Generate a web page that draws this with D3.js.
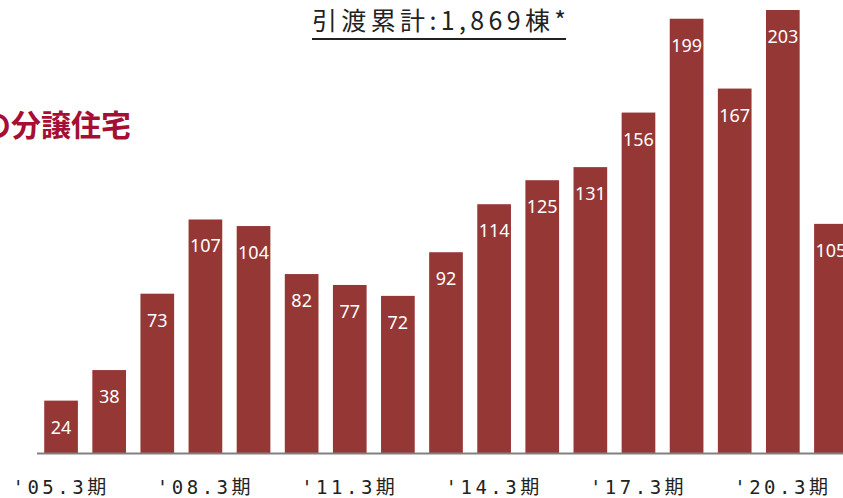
<!DOCTYPE html>
<html>
<head>
<meta charset="utf-8">
<script src="https://cdn.jsdelivr.net/npm/d3@7"></script>
<style>
  body { margin: 0; background: #fff; overflow: hidden; }
  svg { display: block; }
</style>
</head>
<body>
<div id="chart"></div>
<script>
// Fiscal periods and delivered houses per period
const periods = ["'05.3期", "'06.3期", "'07.3期", "'08.3期", "'09.3期", "'10.3期",
    "'11.3期", "'12.3期", "'13.3期", "'14.3期", "'15.3期", "'16.3期",
    "'17.3期", "'18.3期", "'19.3期", "'20.3期", "'21.3期"];
const houses = [24, 38, 73, 107, 104, 82, 77, 72, 92, 114, 125, 131, 156, 199, 167, 203, 105];
const tickLabels = ["'05.3期", "'08.3期", "'11.3期", "'14.3期", "'17.3期", "'20.3期"];
const titleText = "引渡累計:1,869棟*";
const sideText = "の分譲住宅";

const width = 843, height = 498;

const svg = d3.select("#chart").append("svg")
    .attr("width", width)
    .attr("height", height);

const x = d3.scaleBand()
    .domain(periods)
    .range([37, 855])
    .paddingInner(0.3)
    .paddingOuter(0.15);

const y = d3.scaleLinear()
    .domain([0, 203])
    .range([453, 10]);

// Bars
svg.selectAll(".bar")
    .data(houses)
    .enter().append("rect")
    .attr("class", "bar")
    .attr("x", (d, i) => x(periods[i]))
    .attr("y", d => y(d))
    .attr("width", x.bandwidth())
    .attr("height", d => y(0) - y(d))
    .attr("fill", "#953735");

// Value labels inside the bars
svg.selectAll(".val")
    .data(houses)
    .enter().append("text")
    .attr("class", "val")
    .attr("x", (d, i) => x(periods[i]) + x.bandwidth() / 2)
    .attr("y", d => y(d) + 33)
    .attr("text-anchor", "middle")
    .attr("fill", "#fff")
    .style("font-family", "'Noto Sans', sans-serif")
    .style("font-size", "18px")
    .text(d => d);

// Baseline
svg.append("line")
    .attr("x1", 37).attr("x2", width)
    .attr("y1", y(0) + 0.5).attr("y2", y(0) + 0.5)
    .attr("stroke", "#808080")
    .attr("stroke-width", 2);

// Axis labels, every third period
const xAxis = d3.axisBottom(x)
    .tickValues(tickLabels)
    .tickSize(0)
    .tickPadding(0);

const axisG = svg.append("g")
    .attr("transform", "translate(0,480)")
    .call(xAxis);
axisG.select(".domain").remove();
axisG.selectAll("text")
    .attr("dy", "0.71em")
    .attr("fill", "#222")
    .style("font-family", "'DejaVu Sans Mono', 'Noto Sans CJK JP', monospace")
    .style("font-size", "19px")
    .style("letter-spacing", "3.5px");

// Title with underline
svg.append("text")
    .attr("x", 312)
    .attr("y", 30)
    .attr("textLength", 254)
    .attr("lengthAdjust", "spacing")
    .attr("fill", "#222")
    .style("font-family", "'Noto Sans CJK JP', sans-serif")
    .style("font-size", "25px")
    .text(titleText);

svg.append("line")
    .attr("x1", 312).attr("x2", 566)
    .attr("y1", 39).attr("y2", 39)
    .attr("stroke", "#222")
    .attr("stroke-width", 2);

// Heading on the left, cut by the frame as in the source slide
svg.append("text")
    .attr("x", 131)
    .attr("y", 136)
    .attr("text-anchor", "end")
    .attr("fill", "#a50f33")
    .style("font-family", "'Noto Sans CJK JP', sans-serif")
    .style("font-weight", "bold")
    .style("font-size", "30px")
    .text(sideText);
</script>
</body>
</html>
